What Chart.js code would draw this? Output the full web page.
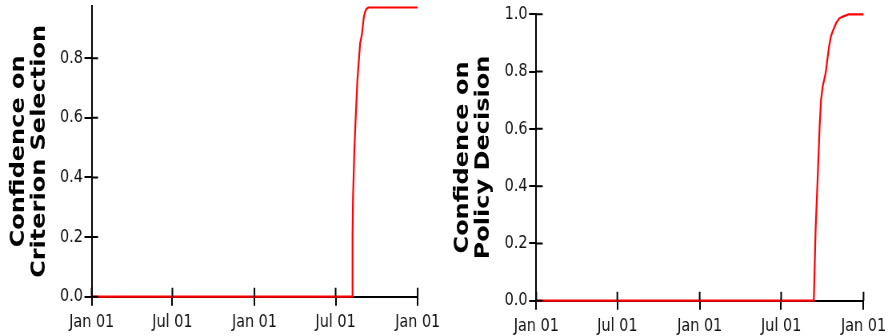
<!DOCTYPE html>
<html>
<head>
<meta charset="utf-8">
<script src="https://cdn.jsdelivr.net/npm/chart.js@4/dist/chart.umd.min.js"></script>
<style>
  html, body { margin: 0; padding: 0; background: #fff; }
  #row { display: flex; width: 888px; height: 336px; }
  .cell { width: 444px; height: 336px; overflow: hidden; position: relative; }
  /* each chart is laid out 555px wide and narrowed to its 444px cell */
  .inner { position: absolute; left: 0; top: 0; width: 555px; height: 336px;
           transform: scaleX(0.8); transform-origin: 0 0; }
</style>
</head>
<body>
<div id="row">
  <div class="cell"><div class="inner"><canvas id="criterion"></canvas></div></div>
  <div class="cell"><div class="inner"><canvas id="policy"></canvas></div></div>
</div>
<script>
// x-axis ticks
const tickDates  = ['2019-01-01', '2019-07-01', '2020-01-01', '2020-07-01', '2021-01-01'];
const tickLabels = ['Jan 01', 'Jul 01', 'Jan 01', 'Jul 01', 'Jan 01'];

// Confidence on criterion selection
const criterionDates = ['2019-01-01', '2020-08-07', '2020-08-08', '2020-08-09', '2020-08-12',
  '2020-08-15', '2020-08-19', '2020-08-21', '2020-08-25', '2020-08-29', '2020-09-02',
  '2020-09-05', '2020-09-08', '2020-09-12', '2021-01-01'];
const criterionValues = [0, 0, 0.21, 0.33, 0.49,
  0.60, 0.73, 0.77, 0.85, 0.88, 0.935,
  0.955, 0.965, 0.97, 0.97];

// Confidence on policy decision
const policyDates = ['2019-01-01', '2020-09-12', '2020-09-16', '2020-09-21', '2020-09-25',
  '2020-09-28', '2020-10-02', '2020-10-05', '2020-10-09', '2020-10-12', '2020-10-16',
  '2020-10-20', '2020-10-24', '2020-11-01', '2020-11-08', '2020-11-16', '2020-11-29', '2021-01-01'];
const policyValues = [0, 0, 0.25, 0.445, 0.61,
  0.70, 0.75, 0.77, 0.80, 0.84, 0.887,
  0.922, 0.94, 0.97, 0.986, 0.992, 1.0, 1.0];

const dayOf = d => Date.parse(d + 'T00:00:00Z') / 864e5;

Chart.defaults.font.family = '"DejaVu Sans", Verdana, sans-serif';
Chart.defaults.color = '#111';

// tick marks that also reach into the plot area
const innerTicks = {
  id: 'innerTicks',
  afterDatasetsDraw(chart, args, opts) {
    const ctx = chart.ctx;
    const x = chart.scales.x, y = chart.scales.y;
    ctx.save();
    ctx.strokeStyle = '#000';
    ctx.lineWidth = 2;
    ctx.beginPath();
    x.ticks.forEach((t, i) => {
      const px = x.getPixelForTick(i);
      ctx.moveTo(px, x.top);
      ctx.lineTo(px, x.top - opts.xLen);
    });
    y.ticks.forEach((t, i) => {
      const py = y.getPixelForTick(i);
      ctx.moveTo(y.right, py);
      ctx.lineTo(y.right + opts.yLen, py);
    });
    ctx.stroke();
    ctx.restore();
  }
};

function makeChart(id, title, dates, values, yMax, geom) {
  const points = dates.map((d, i) => ({ x: dayOf(d), y: values[i] }));
  return new Chart(document.getElementById(id), {
    type: 'line',
    data: {
      datasets: [{
        data: points,
        borderColor: '#ff0000',
        borderWidth: 2.2,
        pointRadius: 0,
        tension: 0,
        fill: false,
        clip: false
      }]
    },
    plugins: [innerTicks],
    options: {
      responsive: true,
      maintainAspectRatio: false,
      animation: false,
      events: [],
      layout: { padding: { left: 0, right: geom.right, top: geom.top, bottom: 0 } },
      plugins: {
        legend: { display: false },
        tooltip: { enabled: false },
        innerTicks: { xLen: 9, yLen: 8 }
      },
      scales: {
        x: {
          type: 'linear',
          min: dayOf(tickDates[0]),
          max: dayOf(tickDates[tickDates.length - 1]),
          afterBuildTicks: s => { s.ticks = tickDates.map(d => ({ value: dayOf(d) })); },
          afterFit: s => { s.height = geom.xHeight; s.paddingLeft = 0; s.paddingRight = 0; },
          grid: { drawOnChartArea: false, drawTicks: true, tickLength: 9, color: '#000', lineWidth: 2 },
          border: { display: true, color: '#000', width: 2 },
          ticks: {
            autoSkip: false, maxRotation: 0, padding: 6,
            font: { size: 18 }, color: '#111',
            callback: (v, i) => tickLabels[i]
          }
        },
        y: {
          type: 'linear',
          min: 0,
          max: yMax,
          afterFit: s => { s.width = geom.yWidth; s.paddingTop = 0; s.paddingBottom = 0; },
          grid: { drawOnChartArea: false, drawTicks: true, tickLength: 9, color: '#000', lineWidth: 2 },
          border: { display: true, color: '#000', width: 2 },
          ticks: {
            stepSize: 0.2, includeBounds: false, padding: 2,
            font: { size: 18 }, color: '#111',
            callback: v => v.toFixed(1)
          },
          title: {
            display: true,
            text: title,
            color: '#000',
            padding: { top: 10.5, bottom: 0 },
            font: { size: 24, weight: 'bold', lineHeight: 1.1 }
          }
        }
      }
    }
  });
}

makeChart('criterion', ['Confidence on', 'Criterion Selection'], criterionDates, criterionValues, 0.975,
  { right: 32.9, top: 6, xHeight: 39.3, yWidth: 114.6 });
makeChart('policy', ['Confidence on', 'Policy Decision'], policyDates, policyValues, 1.0,
  { right: 30.6, top: 14.3, xHeight: 35.3, yWidth: 115.4 });
</script>
</body>
</html>
